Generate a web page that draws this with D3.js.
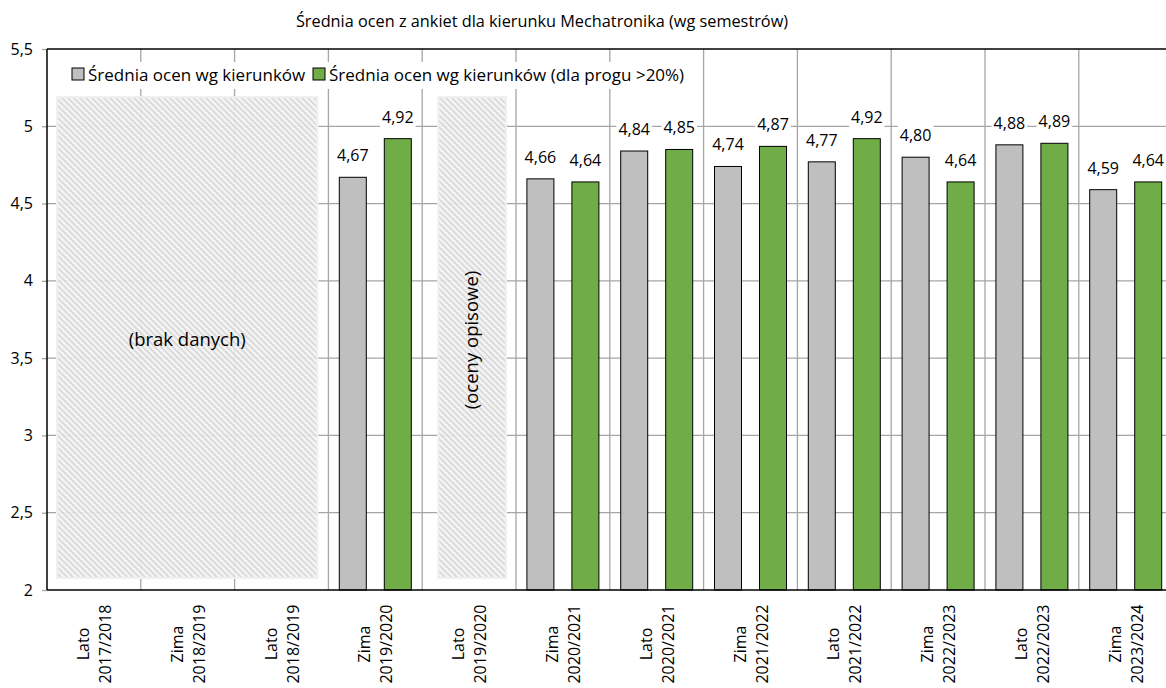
<!DOCTYPE html>
<html><head><meta charset="utf-8">
<script src="https://cdn.jsdelivr.net/npm/d3@7"></script>
<style>body{margin:0;background:#fff}svg{display:block}text{font-family:"Open Sans",sans-serif;fill:#000}</style>
</head><body><svg id="c" width="1166" height="688"></svg>
<script>
const categories = [["Lato","2017/2018"],["Zima","2018/2019"],["Lato","2018/2019"],["Zima","2019/2020"],["Lato","2019/2020"],["Zima","2020/2021"],["Lato","2020/2021"],["Zima","2021/2022"],["Lato","2021/2022"],["Zima","2022/2023"],["Lato","2022/2023"],["Zima","2023/2024"]];
const seriesNames = ["Średnia ocen wg kierunków","Średnia ocen wg kierunków (dla progu >20%)"];
const seriesAll = [null,null,null,4.67,null,4.66,4.84,4.74,4.77,4.80,4.88,4.59];
const seriesProg = [null,null,null,4.92,null,4.64,4.85,4.87,4.92,4.64,4.89,4.64];
const yTicks = [2,2.5,3,3.5,4,4.5,5,5.5];
const colors = ["#bfbfbf","#70ad47"];
const title = "Średnia ocen z ankiet dla kierunku Mechatronika (wg semestrów)";
const noteRegions = [{from:0,to:2,text:"(brak danych)",rotate:false},{from:4,to:4,text:"(oceny opisowe)",rotate:true}];

const svg = d3.select("#c");
const pL=47, pT=49, pB=590, colW=93.8;
const pR = pL + colW*categories.length;
const x = d3.scaleBand().domain(d3.range(categories.length)).range([pL,pR]).padding(0);
const y = d3.scaleLinear().domain([2,5.5]).range([pB,pT]);
const fmt = v => d3.format(".2f")(v).replace(".",",");
const xAt = i => i < categories.length ? x(i) : pR;

// pattern
const defs = svg.append("defs");
const pat = defs.append("pattern").attr("id","hatch").attr("patternUnits","userSpaceOnUse").attr("width",6).attr("height",6);
pat.append("rect").attr("width",6).attr("height",6).attr("fill","#f3f3f3");
pat.append("path").attr("d","M-1,-1 L7,7 M-4,2 L2,8 M4,-2 L8,2").attr("stroke","#d6d6d6").attr("stroke-width",1.6);

// title
svg.append("text").attr("x",542).attr("y",27).attr("text-anchor","middle").style("font-size","16.3px").text(title);

// horizontal grid
svg.append("g").selectAll("line").data(yTicks.filter(t=>t>2&&t<5.5)).join("line")
  .attr("x1",pL).attr("x2",pR).attr("y1",d=>y(d)).attr("y2",d=>y(d)).attr("stroke","#a6a6a6").attr("stroke-width",1.3);
// vertical grid
svg.append("g").selectAll("line").data(d3.range(1,categories.length+1)).join("line")
  .attr("x1",d=>xAt(d)).attr("x2",d=>xAt(d)).attr("y1",pT).attr("y2",pB).attr("stroke","#a6a6a6").attr("stroke-width",1.3);

// y axis
const yAxis = d3.axisLeft(y).tickValues(yTicks).tickFormat(d=>String(d).replace(".",",")).tickSize(5).tickPadding(9);
const ga = svg.append("g").attr("transform",`translate(${pL},0)`).call(yAxis);
ga.select(".domain").remove();
ga.selectAll("line").attr("stroke","#a6a6a6").attr("stroke-width",1.3);
ga.selectAll("text").style("font-size","16px").attr("fill","#000").attr("font-family","'Open Sans',sans-serif");

// legend box
const lg = svg.append("g");
lg.append("rect").attr("x",57).attr("y",62).attr("width",636).attr("height",27).attr("fill","#fff");
const legX=[72,313];
seriesNames.forEach((n,i)=>{
  lg.append("rect").attr("x",legX[i]).attr("y",68).attr("width",12).attr("height",12).attr("fill",colors[i]).attr("stroke","#000").attr("stroke-width",1);
  lg.append("text").attr("x",legX[i]+16).attr("y",80.5).style("font-size","17px").text(n);
});

// hatched regions
noteRegions.forEach(r=>{
  const x1 = x(r.to)+x.bandwidth()-(r.rotate?10:11);
  const x0 = r.rotate ? x(r.from)+16 : x(r.from)+10;
  svg.append("rect").attr("x",x0).attr("y",97).attr("width",x1-x0).attr("height",578-97)
    .attr("fill","url(#hatch)").attr("fill-opacity",0.93).attr("stroke","#f0f0f0").attr("stroke-width",2);
  const cx=(x0+x1)/2, cy=340;
  const t = svg.append("text").attr("text-anchor","middle").style("font-size","18.5px").text(r.text);
  if(r.rotate) t.attr("transform",`translate(${cx+6},${cy}) rotate(-90)`);
  else t.attr("x",cx).attr("y",cy+6);
});

// bars
const data=[];
categories.forEach((c,i)=>{
  if(seriesAll[i]!=null) data.push({i,s:0,v:seriesAll[i]});
  if(seriesProg[i]!=null) data.push({i,s:1,v:seriesProg[i]});
});
const barW=27, gap=18;
const bx = d => x(d.i)+x.bandwidth()/2 + (d.s===0 ? -gap/2-barW : gap/2);
svg.append("g").selectAll("rect").data(data).join("rect")
  .attr("x",bx).attr("y",d=>y(d.v)).attr("width",barW).attr("height",d=>pB-y(d.v))
  .attr("fill",d=>colors[d.s]).attr("stroke","#000").attr("stroke-width",1);

// labels with white background
const lblG = svg.append("g");
data.forEach(d=>{
  const cx = bx(d)+barW/2, ty = y(d.v)-16;
  const t = lblG.append("text").attr("x",cx).attr("y",ty).attr("text-anchor","middle").style("font-size","16px").text(fmt(d.v));
  const bb = t.node().getBBox();
  lblG.insert("rect","text").attr("x",bb.x-2).attr("y",bb.y).attr("width",bb.width+4).attr("height",bb.height).attr("fill","#fff");
});
lblG.selectAll("text").raise();

// axis frame
svg.append("line").attr("x1",pL).attr("x2",pL).attr("y1",pT).attr("y2",pB).attr("stroke","#000").attr("stroke-width",1.5);
svg.append("line").attr("x1",pL).attr("x2",pR).attr("y1",pB).attr("y2",pB).attr("stroke","#000").attr("stroke-width",1.5);
svg.append("line").attr("x1",pL).attr("x2",pR).attr("y1",pT).attr("y2",pT).attr("stroke","#000").attr("stroke-width",1.5);

// x labels
const xl = svg.append("g");
categories.forEach((c,i)=>{
  const cx = x(i)+x.bandwidth()/2;
  const g = xl.append("g").attr("transform",`translate(${cx},644) rotate(-90)`);
  g.append("text").attr("text-anchor","middle").attr("x",0).attr("y",-5).style("font-size","16px").text(c[0]);
  g.append("text").attr("text-anchor","middle").attr("x",0).attr("y",17).style("font-size","16px").text(c[1]);
});
</script></body></html>
